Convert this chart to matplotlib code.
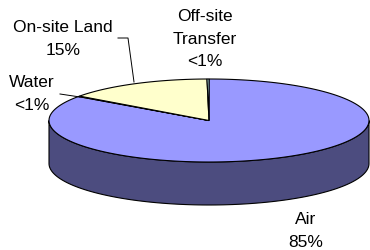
import numpy as np
import matplotlib.pyplot as plt
from matplotlib.patches import Polygon

# data (clockwise from 12 o'clock, like Excel)
categories = ["Air", "Water", "On-site Land", "Off-site\nTransfer"]
values = [84.8, 0.2, 14.8, 0.2]
pct_labels = ["85%", "<1%", "15%", "<1%"]
top_colors = ["#9999FF", "#993366", "#FFFFCC", "#CCFFFF"]
side_colors = ["#4C4C7F", "#4C1933", "#7F7F66", "#667F7F"]

# pie geometry in pixels
cx, cy = 209, 120.5
a, b = 160, 41.5
depth = 43


def pt(t, dz=0):
    return (cx + a * np.sin(t), cy - b * np.cos(t) + dz)


fig = plt.figure(figsize=(3.7, 2.5), dpi=100)
ax = fig.add_axes([0, 0, 1, 1])
ax.set_xlim(0, 370)
ax.set_ylim(250, 0)
ax.axis("off")

frac = np.array(values) / sum(values)
bounds = np.concatenate([[0], np.cumsum(frac)]) * 2 * np.pi

# side wall (front half only)
for i in range(len(values)):
    t0 = max(bounds[i], np.pi / 2)
    t1 = min(bounds[i + 1], 3 * np.pi / 2)
    if t1 <= t0:
        continue
    ts = np.linspace(t0, t1, 120)
    top = [pt(t) for t in ts]
    bot = [pt(t, depth) for t in ts[::-1]]
    ax.add_patch(Polygon(top + bot, closed=True, facecolor=side_colors[i],
                         edgecolor="black", linewidth=0.8))

# top face wedges
for i in range(len(values)):
    ts = np.linspace(bounds[i], bounds[i + 1], max(3, int(300 * frac[i])))
    verts = [(cx, cy)] + [pt(t) for t in ts]
    ax.add_patch(Polygon(verts, closed=True, facecolor=top_colors[i],
                         edgecolor="black", linewidth=0.8))

# labels
font = dict(family="Liberation Sans", fontsize=12.5, ha="center", va="center",
            linespacing=1.6)
label_pos = [(306, 231), (32, 94), (63, 39), (205, 39)]
for name, pct, (x, y) in zip(categories, pct_labels, label_pos):
    ax.text(x, y, name + "\n" + pct, **font)

# leader lines
ax.plot([118, 128, 134], [38, 38, 82], color="black", linewidth=0.7)
ax.plot([60, 80], [94, 97], color="black", linewidth=0.7)

fig.savefig("out.png", dpi=100)
